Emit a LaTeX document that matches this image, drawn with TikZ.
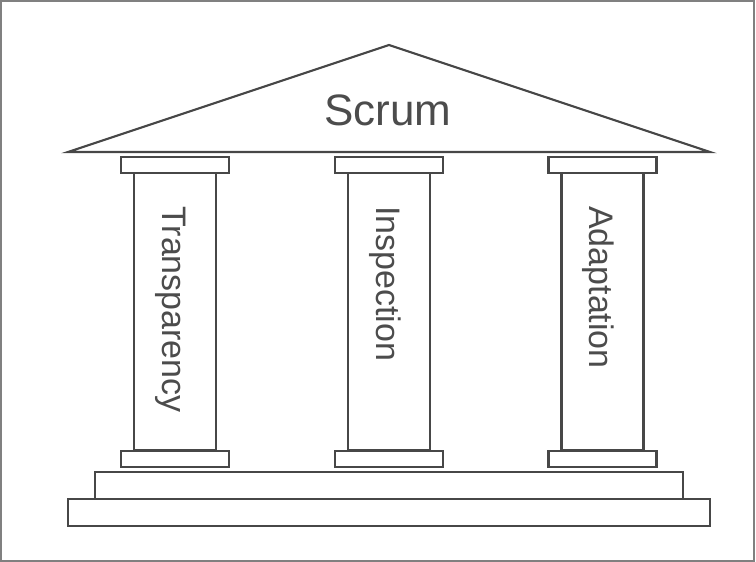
\documentclass[tikz,border=0pt]{standalone}
\usepackage{fontspec}
\setmainfont{Liberation Sans}
\begin{document}
\begin{tikzpicture}[x=1pt,y=-1pt,
  ln/.style={draw=black!72,line width=2.2pt},
  part/.style={ln,fill=white},
  lbl/.style={text=black!70,inner sep=0pt,font=\fontsize{34}{38}\selectfont,rotate=-90,anchor=base west}]
\useasboundingbox (0,0) rectangle (756,562);
\draw[black!50,line width=1.5pt] (1,1) rectangle (754,561);
% roof
\coordinate (apex) at (389,45);
\coordinate (rl) at (68,152);
\coordinate (rr) at (710,152);
\draw[ln,line join=miter] (rl) -- (apex) -- (rr) -- cycle;
\node[text=black!70,inner sep=0pt,font=\fontsize{44}{50}\selectfont,anchor=base] (scrum) at (388,125) {Scrum};
% steps
\draw[part] (68,499) rectangle (710,526);
\draw[part] (95,472) rectangle (683,499);
% columns
\foreach \c/\t/\n in {175/Transparency/a,389/Inspection/b,602.5/Adaptation/c}{
  \draw[part] (\c-41,173) rectangle (\c+41,450);
  \draw[part] (\c-54,157) rectangle (\c+54,173);
  \draw[part] (\c-54,451) rectangle (\c+54,467);
  \node[lbl] (\n) at (\c-13,206) {\t};
}
\end{tikzpicture}
\end{document}
